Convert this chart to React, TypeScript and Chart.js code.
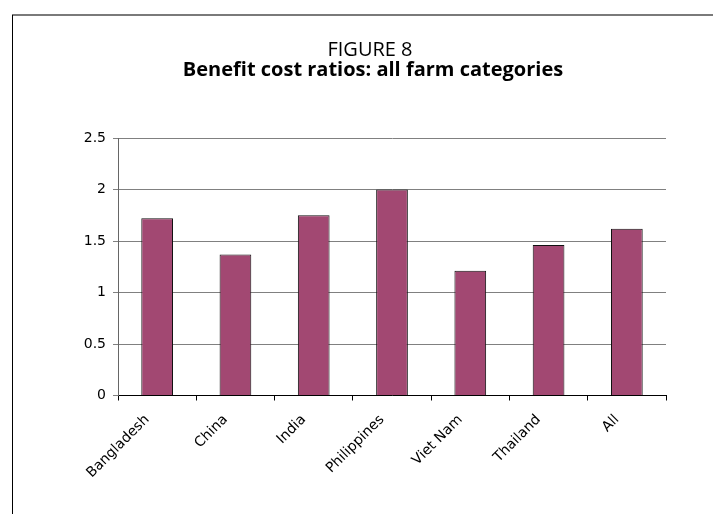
import React, { useEffect, useRef } from "react";
import { Chart, registerables } from "chart.js";

Chart.register(...registerables);

const categories = ["Bangladesh", "China", "India", "Philippines", "Viet Nam", "Thailand", "All"];
const ratios = [1.72, 1.37, 1.75, 2.0, 1.21, 1.46, 1.62];
const yTicks = [0, 0.5, 1, 1.5, 2, 2.5];
const figureLabel = "FIGURE 8";
const figureTitle = "Benefit cost ratios: all farm categories";

const TITLE_FONT = "'Open Sans', 'Noto Sans', sans-serif";
const TICK_FONT = "'DejaVu Sans', 'Noto Sans', sans-serif";

// Draws the frame lines and the two-line heading
const framePlugin = {
  id: "frame",
  beforeDraw(chart: Chart) {
    const ctx = chart.ctx;
    ctx.save();
    ctx.fillStyle = "#ffffff";
    ctx.fillRect(0, 0, chart.width, chart.height);
    ctx.strokeStyle = "#7a7a7a";
    ctx.lineWidth = 2;
    ctx.beginPath();
    ctx.moveTo(12, 15);
    ctx.lineTo(chart.width, 15);
    ctx.stroke();
    ctx.strokeStyle = "#000000";
    ctx.lineWidth = 1;
    ctx.beginPath();
    ctx.moveTo(12.5, 15);
    ctx.lineTo(12.5, chart.height);
    ctx.stroke();

    ctx.fillStyle = "#000000";
    ctx.textAlign = "center";
    ctx.textBaseline = "alphabetic";
    ctx.font = `20px ${TITLE_FONT}`;
    ctx.fillText(figureLabel, 370, 56);
    ctx.font = `bold 20px ${TITLE_FONT}`;
    ctx.fillText(figureTitle, 373, 76);
    ctx.restore();
  },
};

export default function App() {
  const ref = useRef<HTMLCanvasElement | null>(null);

  useEffect(() => {
    if (!ref.current) return;
    const chart = new Chart(ref.current, {
      type: "bar",
      data: {
        labels: categories,
        datasets: [
          {
            data: ratios,
            backgroundColor: "#a24872",
            borderColor: "#111111",
            borderWidth: 1,
            categoryPercentage: 1,
            barPercentage: 0.405,
          },
        ],
      },
      options: {
        animation: false,
        responsive: false,
        maintainAspectRatio: false,
        layout: { padding: { left: 0, top: 138, right: 47, bottom: 0 } },
        plugins: {
          legend: { display: false },
          title: { display: false },
          tooltip: { enabled: false },
        },
        scales: {
          x: {
            offset: true,
            grid: {
              offset: true,
              drawOnChartArea: false,
              drawTicks: true,
              tickLength: 5,
              color: "#000000",
            },
            border: { color: "#000000", width: 1 },
            ticks: {
              color: "#000000",
              font: { family: TICK_FONT, size: 14 },
              maxRotation: 45,
              minRotation: 45,
              padding: 11,
              labelOffset: -10,
            },
            afterFit(scale: any) {
              scale.height = 118.5;
            },
          },
          y: {
            min: 0,
            max: 2.5,
            afterBuildTicks(scale: any) {
              scale.ticks = yTicks.map((v) => ({ value: v }));
            },
            grid: {
              color: "#808080",
              lineWidth: 1,
              tickLength: 5,
              drawTicks: true,
            },
            border: { color: "#666666", width: 1 },
            ticks: {
              color: "#000000",
              font: { family: TICK_FONT, size: 14 },
              padding: 7,
              callback: (v: any) => String(v),
            },
            afterFit(scale: any) {
              scale.width = 118;
            },
          },
        },
      },
      plugins: [framePlugin],
    });
    return () => chart.destroy();
  }, []);

  return (
    <div style={{ position: "fixed", left: 0, top: 0, width: 713, height: 514, background: "#fff" }}>
      <canvas ref={ref} width={713} height={514} style={{ display: "block" }} />
    </div>
  );
}
